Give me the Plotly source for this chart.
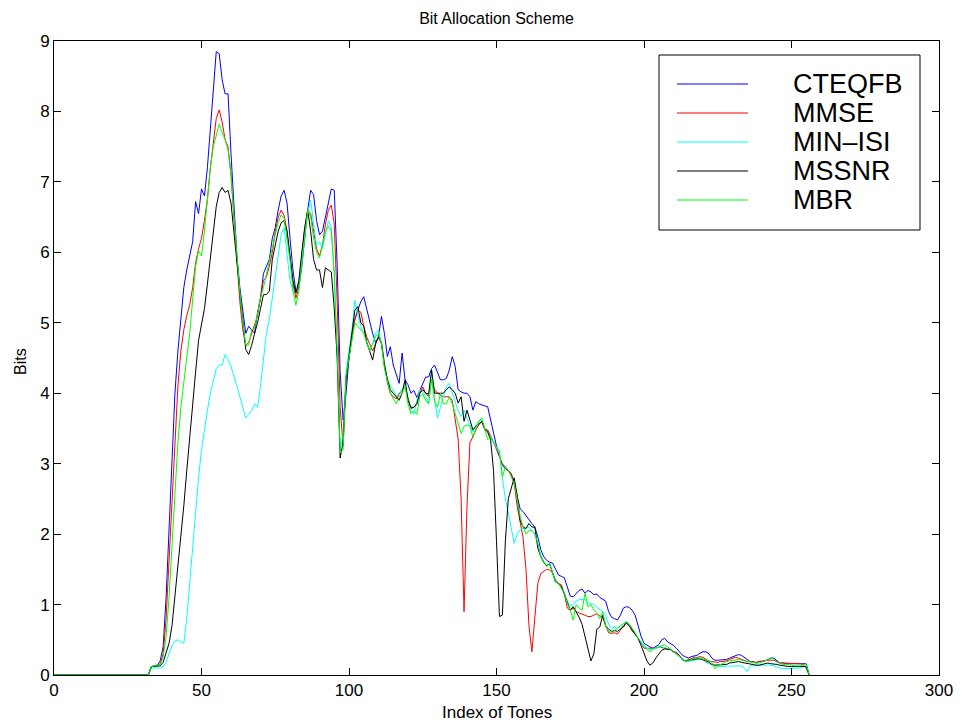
import plotly.graph_objects as go

# Tone index: 0, then 32..256 (flat zero region between 0 and 32)
tones = [0] + list(range(32, 257))

series_names = ["CTEQFB", "MMSE", "MIN–ISI", "MSSNR", "MBR"]
series_colors = ["rgb(0,0,255)", "rgb(255,0,0)", "rgb(0,255,255)", "rgb(0,0,0)", "rgb(0,255,0)"]

cteqfb = [0, 0,
    0.12, 0.13, 0.14, 0.2, 0.4, 1.1, 2.1,
    3.1, 4.0, 4.6, 5.1, 5.5, 5.75, 5.95, 6.15, 6.72, 6.55,
    6.9, 6.8, 7.2, 7.8, 8.4, 8.85, 8.82, 8.45, 8.25, 8.25,
    7.4, 6.6, 5.95, 5.5, 5.15, 4.85, 4.95, 4.9, 4.85, 5.15,
    5.35, 5.7, 5.8, 5.9, 6.2, 6.35, 6.6, 6.8, 6.88, 6.7,
    6.2, 5.75, 5.45, 5.5, 5.8, 6.2, 6.6, 6.88, 6.82, 6.45,
    6.25, 6.3, 6.5, 6.75, 6.9, 6.88, 5.8, 4.3, 3.62, 4.0,
    4.5, 4.85, 5.05, 5.18, 5.3, 5.37, 5.2, 5.0, 4.85, 4.72,
    4.8, 5.09, 4.85, 4.52, 4.66, 4.4, 4.28, 4.14, 4.57, 4.19,
    4.12, 4.0, 4.04, 3.94, 4.04, 4.14, 4.23, 4.23, 4.35, 4.4,
    4.3, 4.19, 4.19, 4.21, 4.33, 4.52, 4.38, 4.05, 4.02, 4.0,
    4.0, 3.95, 3.76, 3.88, 3.85, 3.83, 3.82, 3.81, 3.62, 3.4,
    3.25, 3.1, 2.98, 2.93, 2.9, 2.86, 2.72, 2.55, 2.36, 2.32,
    2.26, 2.2, 2.15, 2.1, 1.96, 1.78, 1.68, 1.63, 1.6, 1.59,
    1.5, 1.42, 1.4, 1.38, 1.25, 1.12, 1.11, 1.15, 1.2, 1.22,
    1.16, 1.2, 1.18, 1.14, 1.15, 1.1, 1.08, 1.05, 0.9, 0.82,
    0.8, 0.78, 0.85, 0.95, 0.97, 0.96, 0.92, 0.85, 0.7, 0.55,
    0.45, 0.42, 0.4, 0.38, 0.4, 0.43, 0.5, 0.52, 0.47, 0.45,
    0.42, 0.38, 0.33, 0.28, 0.26, 0.24, 0.26, 0.27, 0.28, 0.31,
    0.33, 0.33, 0.3, 0.24, 0.21, 0.21, 0.21, 0.21, 0.22, 0.24,
    0.26, 0.27, 0.29, 0.28, 0.25, 0.22, 0.19, 0.19, 0.17, 0.19,
    0.19, 0.2, 0.22, 0.24, 0.24, 0.2, 0.17, 0.17, 0.16, 0.16,
    0.16, 0.16, 0.16, 0.17, 0.17, 0.16,
    0]

mmse = [0, 0,
    0.12, 0.13, 0.13, 0.16, 0.3, 0.8, 1.6,
    2.5, 3.4, 4.1, 4.6, 4.9, 5.1, 5.25, 5.5, 5.85, 6.05,
    6.2, 6.45, 6.75, 7.2, 7.6, 7.9, 8.02, 7.85, 7.6, 7.5,
    7.1, 6.5, 5.8, 5.3, 4.9, 4.68, 4.72, 4.85, 4.95, 5.1,
    5.35, 5.6, 5.65, 5.8, 6.0, 6.3, 6.5, 6.6, 6.52, 6.3,
    5.94, 5.56, 5.35, 5.5, 5.95, 6.35, 6.6, 6.55, 6.3, 6.05,
    5.95, 6.1, 6.4, 6.6, 6.67, 6.4, 5.3, 3.8, 3.25, 4.2,
    4.5, 4.8, 5.05, 5.18, 5.15, 4.95, 4.8, 4.7, 4.6, 4.7,
    4.8, 4.72, 4.4, 4.15, 4.0, 3.95, 3.92, 3.98, 4.05, 4.09,
    3.92, 3.78, 3.8, 3.85, 4.0, 4.09, 4.0, 3.95, 4.2, 4.05,
    4.0, 3.98, 3.95, 3.95, 3.95, 3.9, 3.62, 3.35, 2.5, 0.9,
    2.4, 3.3, 3.38, 3.48, 3.55, 3.6, 3.48, 3.48, 3.4, 3.3,
    3.2, 3.1, 3.0, 2.95, 2.91, 2.85, 2.72, 2.4, 2.2, 1.95,
    1.5, 0.7, 0.33, 0.8, 1.3, 1.44, 1.47, 1.5, 1.49, 1.45,
    1.35, 1.3, 1.28, 1.15, 0.95, 0.92, 0.95, 0.9, 0.88, 0.87,
    0.85, 0.83, 0.83, 0.85, 0.87, 0.84, 0.82, 0.7, 0.6, 0.59,
    0.6, 0.58, 0.65, 0.7, 0.74, 0.7, 0.62, 0.58, 0.52, 0.45,
    0.38, 0.38, 0.38, 0.38, 0.38, 0.4, 0.39, 0.38, 0.37, 0.36,
    0.33, 0.32, 0.28, 0.22, 0.2, 0.22, 0.24, 0.25, 0.25, 0.26,
    0.25, 0.22, 0.2, 0.19, 0.18, 0.18, 0.19, 0.19, 0.2, 0.22,
    0.24, 0.25, 0.24, 0.22, 0.2, 0.19, 0.19, 0.18, 0.18, 0.19,
    0.2, 0.21, 0.21, 0.21, 0.21, 0.19, 0.17, 0.17, 0.17, 0.17,
    0.16, 0.16, 0.17, 0.16, 0.14, 0.09,
    0]

min_isi = [0, 0,
    0.1, 0.1, 0.1, 0.1, 0.12, 0.18, 0.3,
    0.42, 0.48, 0.5, 0.47, 0.45, 0.8, 1.3, 1.9, 2.4, 2.8,
    3.2, 3.5, 3.75, 4.0, 4.2, 4.35, 4.4, 4.4, 4.55, 4.48,
    4.38, 4.25, 4.1, 3.95, 3.8, 3.65, 3.7, 3.75, 3.85, 3.8,
    4.1, 4.5, 4.85, 5.05, 5.35, 5.6, 5.95, 6.25, 6.35, 6.0,
    5.6, 5.45, 5.42, 5.6, 5.95, 6.25, 6.55, 6.74, 6.4, 6.1,
    6.15, 6.05, 6.25, 6.45, 6.35, 5.7, 4.5, 3.2, 3.4, 4.3,
    4.6, 4.9, 5.32, 5.1, 4.95, 4.85, 4.75, 4.6, 4.7, 4.85,
    4.9, 4.7, 4.4, 4.2, 4.1, 4.05, 3.95, 4.0, 4.05, 4.15,
    3.9, 3.75, 3.7, 3.9, 4.05, 4.02, 3.95, 3.85, 4.3, 3.9,
    3.65, 3.8, 3.95, 4.1, 4.14, 4.0, 3.86, 3.75, 3.67, 3.76,
    3.64, 3.55, 3.45, 3.55, 3.6, 3.62, 3.5, 3.45, 3.38, 3.3,
    3.24, 3.15, 2.8, 2.5, 2.3, 2.1, 1.87, 2.0, 2.06, 2.08,
    2.08, 2.1, 2.05, 2.0, 1.85, 1.7, 1.6, 1.56, 1.58, 1.45,
    1.33, 1.3, 1.25, 1.15, 1.05, 0.98, 1.0, 1.05, 1.07, 1.07,
    1.07, 1.03, 1.02, 1.0, 0.96, 0.93, 0.9, 0.85, 0.72, 0.66,
    0.68, 0.66, 0.68, 0.72, 0.75, 0.72, 0.66, 0.58, 0.52, 0.46,
    0.4, 0.38, 0.36, 0.37, 0.38, 0.38, 0.4, 0.39, 0.38, 0.36,
    0.33, 0.3, 0.26, 0.22, 0.19, 0.19, 0.2, 0.21, 0.22, 0.23,
    0.22, 0.18, 0.16, 0.14, 0.13, 0.12, 0.12, 0.12, 0.13, 0.13,
    0.13, 0.13, 0.13, 0.13, 0.1, 0.05, 0.13, 0.13, 0.12, 0.13,
    0.14, 0.14, 0.15, 0.14, 0.13, 0.11, 0.1, 0.09, 0.09, 0.09,
    0.09, 0.1, 0.1, 0.1, 0.12, 0.11,
    0]

mssnr = [0, 0,
    0.12, 0.12, 0.12, 0.13, 0.18, 0.3, 0.45,
    0.7, 1.1, 1.5, 1.9, 2.4, 2.9, 3.4, 3.9, 4.3, 4.75,
    5.0, 5.2, 5.55, 5.9, 6.3, 6.65, 6.85, 6.92, 6.85, 6.88,
    6.7, 6.3, 5.85, 5.45, 5.1, 4.62, 4.55, 4.68, 4.85, 5.0,
    5.2, 5.4, 5.4, 5.45, 5.9, 6.1, 6.3, 6.42, 6.45, 6.3,
    5.9, 5.6, 5.42, 5.6, 6.0, 6.35, 6.6, 6.3, 5.9, 5.75,
    5.75, 5.5, 5.78, 5.75, 5.72, 5.2, 4.5, 3.08, 3.3, 4.2,
    4.55, 4.85, 5.18, 5.23, 5.0, 4.95, 4.72, 4.6, 4.47, 4.7,
    4.8, 4.71, 4.4, 4.2, 4.05, 4.0, 3.95, 3.9, 4.0, 4.19,
    3.9, 3.8, 3.8, 3.85, 4.0, 4.05, 4.0, 3.99, 4.33, 4.0,
    4.0, 4.0, 4.0, 4.05, 4.09, 4.05, 4.0, 3.86, 3.95, 3.6,
    3.76, 3.62, 3.48, 3.53, 3.56, 3.6, 3.5, 3.45, 3.34, 2.9,
    1.9, 0.83, 0.85, 1.9, 2.5, 2.67, 2.8, 2.55, 2.2, 2.1,
    2.08, 2.15, 2.1, 2.1, 1.8, 1.68, 1.6, 1.55, 1.58, 1.45,
    1.32, 1.3, 1.25, 1.15, 1.02, 0.92, 0.97, 0.9, 0.82, 0.72,
    0.55, 0.35, 0.2, 0.3, 0.65, 0.68, 0.85, 0.7, 0.65, 0.62,
    0.63, 0.62, 0.65, 0.68, 0.74, 0.7, 0.64, 0.58, 0.52, 0.42,
    0.32, 0.2, 0.14, 0.17, 0.24, 0.3, 0.35, 0.37, 0.37, 0.36,
    0.33, 0.31, 0.27, 0.22, 0.2, 0.21, 0.22, 0.23, 0.23, 0.23,
    0.22, 0.2, 0.18, 0.15, 0.14, 0.14, 0.14, 0.14, 0.15, 0.17,
    0.18, 0.19, 0.19, 0.18, 0.17, 0.16, 0.15, 0.14, 0.14, 0.14,
    0.15, 0.16, 0.17, 0.16, 0.16, 0.15, 0.14, 0.13, 0.13, 0.12,
    0.12, 0.12, 0.12, 0.12, 0.12, 0.12,
    0]

mbr = [0, 0,
    0.12, 0.13, 0.13, 0.15, 0.25, 0.55, 1.1,
    1.8, 2.6, 3.3, 3.8, 4.2, 4.5, 4.85, 5.3, 5.8, 6.02,
    5.95, 6.3, 6.75, 7.2, 7.5, 7.65, 7.82, 7.7, 7.6, 7.45,
    7.1, 6.5, 5.9, 5.45, 5.0, 4.68, 4.68, 4.9, 4.92, 5.15,
    5.35, 5.5, 5.7, 5.9, 6.1, 6.25, 6.43, 6.53, 6.48, 6.2,
    5.89, 5.46, 5.25, 5.45, 5.85, 6.3, 6.6, 6.5, 6.2, 6.0,
    5.92, 6.1, 6.3, 6.37, 6.3, 5.7, 4.6, 3.15, 3.2, 4.25,
    4.5, 4.75, 5.0, 4.95, 4.9, 4.85, 4.72, 4.6, 4.7, 4.8,
    4.85, 4.7, 4.35, 4.15, 4.0, 3.92, 3.85, 3.95, 4.0, 4.1,
    3.85, 3.71, 3.75, 3.7, 3.95, 3.99, 3.9, 3.85, 4.2, 3.9,
    3.8, 4.0, 3.85, 3.85, 3.95, 3.85, 3.7, 3.58, 3.43, 3.53,
    3.55, 3.53, 3.38, 3.5, 3.6, 3.65, 3.5, 3.34, 3.38, 3.3,
    3.24, 3.19, 2.81, 2.96, 2.9, 2.81, 2.72, 2.5, 2.25, 2.1,
    2.0, 2.05, 2.05, 2.0, 1.87, 1.68, 1.6, 1.54, 1.58, 1.45,
    1.32, 1.3, 1.22, 1.16, 1.02, 0.92, 0.78, 1.0, 0.95, 0.92,
    1.16, 0.97, 1.0, 0.92, 0.88, 0.8, 0.9, 0.7, 0.62, 0.6,
    0.63, 0.67, 0.7, 0.73, 0.76, 0.72, 0.66, 0.6, 0.52, 0.47,
    0.43, 0.36, 0.33, 0.36, 0.39, 0.4, 0.42, 0.43, 0.4, 0.36,
    0.33, 0.3, 0.26, 0.23, 0.2, 0.2, 0.22, 0.23, 0.25, 0.24,
    0.23, 0.21, 0.2, 0.18, 0.09, 0.13, 0.15, 0.18, 0.19, 0.2,
    0.21, 0.22, 0.22, 0.21, 0.2, 0.19, 0.18, 0.17, 0.17, 0.17,
    0.18, 0.2, 0.22, 0.24, 0.23, 0.18, 0.17, 0.15, 0.15, 0.15,
    0.14, 0.13, 0.13, 0.13, 0.15, 0.15,
    0]

x_ticks = [0, 50, 100, 150, 200, 250, 300]
y_ticks = [0, 1, 2, 3, 4, 5, 6, 7, 8, 9]

all_series = [cteqfb, mmse, min_isi, mssnr, mbr]

FONT = "Liberation Sans, Arial, Helvetica, sans-serif"

fig = go.Figure()
for name, color, vals in zip(series_names, series_colors, all_series):
    fig.add_trace(go.Scatter(x=tones, y=vals, mode="lines", name=name,
                             line=dict(color=color, width=1), showlegend=False))

# Legend drawn as a boxed panel (MATLAB style)
L, R, T, B = 54, 28, 41, 52
W, H = 967, 727
pw, ph = W - L - R, H - T - B

def px_x(p):
    return (p - L) / pw

def px_y(p):
    return (H - B - p) / ph

shapes = [dict(type="rect", xref="paper", yref="paper",
               x0=px_x(659), x1=px_x(920), y0=px_y(230), y1=px_y(55),
               line=dict(color="black", width=1), fillcolor="white", layer="above")]
annotations = []
row_y = [84, 113, 142, 171, 200]
for name, color, ry in zip(series_names, series_colors, row_y):
    shapes.append(dict(type="line", xref="paper", yref="paper",
                       x0=px_x(677), x1=px_x(748), y0=px_y(ry), y1=px_y(ry),
                       line=dict(color=color, width=1.2), layer="above"))
    annotations.append(dict(xref="paper", yref="paper", x=px_x(791), y=px_y(ry),
                            text=name, showarrow=False, xanchor="left", yanchor="middle",
                            font=dict(family=FONT, size=27, color="black")))

annotations.append(dict(xref="paper", yref="paper", x=0.5, y=px_y(712),
                        text="Index of Tones", showarrow=False, xanchor="center",
                        yanchor="middle", font=dict(family=FONT, size=17, color="black")))
annotations.append(dict(xref="paper", yref="paper", x=px_x(20), y=px_y(362),
                        text="Bits", showarrow=False, textangle=-90, xanchor="center",
                        yanchor="middle", font=dict(family=FONT, size=16, color="black")))

fig.update_layout(
    width=W, height=H,
    margin=dict(l=L, r=R, t=T, b=B),
    paper_bgcolor="white", plot_bgcolor="white",
    title=dict(text="Bit Allocation Scheme", x=0.5, xref="paper",
               y=1 - 18 / H, yref="container", yanchor="middle", xanchor="center",
               font=dict(family=FONT, size=16, color="black")),
    shapes=shapes, annotations=annotations,
    font=dict(family=FONT, size=16, color="black"),
)
fig.update_xaxes(range=[0, 300], tickvals=x_ticks, ticks="inside", ticklen=7,
                 showline=True, linecolor="black", linewidth=1, mirror="ticks",
                 showgrid=False, zeroline=False, tickcolor="black",
                 tickfont=dict(family=FONT, size=17, color="black"))
fig.update_yaxes(range=[0, 9], tickvals=y_ticks, ticks="inside", ticklen=7,
                 showline=True, linecolor="black", linewidth=1, mirror="ticks",
                 showgrid=False, zeroline=False, tickcolor="black",
                 tickfont=dict(family=FONT, size=17, color="black"))

fig.write_html("out.html")
